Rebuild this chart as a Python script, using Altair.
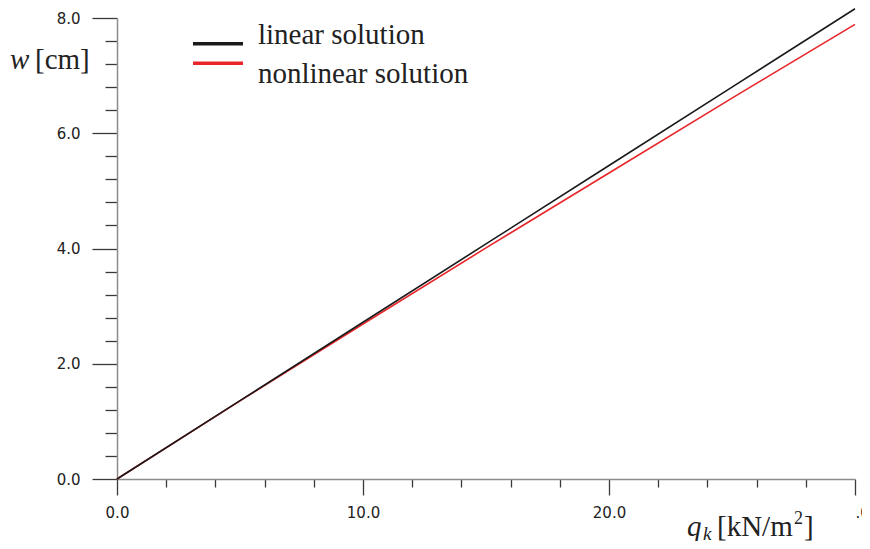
import altair as alt
import pandas as pd

# data
q_vals = [0, 5, 10, 15, 20, 25, 30]
w_linear = [0.0, 1.36, 2.72, 4.08, 5.44, 6.80, 8.16]
w_nonlinear = [0.0, 1.355, 2.69, 4.01, 5.31, 6.61, 7.89]
series_names = ["linear solution", "nonlinear solution"]
series_colors = ["#1a1a1a", "#e8262a"]

y_ticks = [round(0.4 * i, 1) for i in range(21)]
x_ticks = [2 * i for i in range(16)]

rows = []
for q, w in zip(q_vals, w_nonlinear):
    rows.append({"q": q, "w": w, "series": series_names[1], "order": 0})
for q, w in zip(q_vals, w_linear):
    rows.append({"q": q, "w": w, "series": series_names[0], "order": 1})
df = pd.DataFrame(rows)

legend_df = pd.DataFrame({"series": series_names})

label_font = "DejaVu Sans"
serif = "Liberation Serif"

color_scale = alt.Scale(domain=series_names, range=series_colors)

y_axis = alt.Axis(
    values=y_ticks,
    labelExpr="abs(datum.value/2 - round(datum.value/2)) < 0.001 ? format(datum.value, '.1f') : ''",
    tickSize={"condition": {"test": "abs(datum.value/2 - round(datum.value/2)) < 0.001", "value": 25}, "value": 12},
    labelPadding=12,
    labelFont=label_font, labelFontSize=15, labelColor="#222222",
    domainColor="#8c8c8c", domainWidth=1.5,
    tickColor="#3a3a3a", tickWidth=1.3,
    grid=False, title=None,
)
x_axis = alt.Axis(
    values=x_ticks,
    labelExpr="datum.value == 30 ? '.0' : (datum.value % 10 == 0 ? format(datum.value, '.1f') : '')",
    labelAlign={"condition": {"test": "datum.value == 30", "value": "left"}, "value": "center"},
    tickSize={"condition": {"test": "datum.value % 10 == 0", "value": 16}, "value": 8},
    labelPadding=10,
    labelFont=label_font, labelFontSize=15, labelColor="#222222",
    domainColor="#8c8c8c", domainWidth=1.5,
    tickColor="#3a3a3a", tickWidth=1.3,
    grid=False, title=None,
)

lines = alt.Chart(df).mark_line(strokeWidth=1.6).encode(
    x=alt.X("q:Q", scale=alt.Scale(domain=[0, 30], nice=False), axis=x_axis),
    y=alt.Y("w:Q", scale=alt.Scale(domain=[0, 8], nice=False), axis=y_axis),
    color=alt.Color("series:N", scale=color_scale, legend=None),
    detail="series:N",
    order="order:Q",
)

leg_y = alt.Y("series:N", scale=alt.Scale(domain=series_names, range=[16, 55], padding=0), axis=None)
legend_rules = alt.Chart(legend_df).mark_rule(strokeWidth=3.5).encode(
    x=alt.value(76), x2=alt.value(126), y=leg_y,
    color=alt.Color("series:N", scale=color_scale, legend=None),
)
legend_text = alt.Chart(legend_df).mark_text(
    align="left", baseline="middle", font=serif, fontSize=29, color="#222222", dy=1
).encode(x=alt.value(141), y=leg_y, text="series:N")

def txt(s, x, y, size=29, style="normal"):
    return alt.Chart(pd.DataFrame({"t": [s]})).mark_text(
        align="left", baseline="alphabetic", font=serif, fontSize=size,
        fontStyle=style, color="#222222"
    ).encode(x=alt.value(x), y=alt.value(y), text="t:N")

titles = [
    txt("w", -107, 51, style="italic"),
    txt("[cm]", -82, 51),
    txt("q", 570, 518, style="italic"),
    txt("k", 586, 522, size=19, style="italic"),
    txt("[kN/m", 600, 518),
    txt("2", 677, 506, size=18),
    txt("]", 687, 518),
]

chart = alt.layer(lines, legend_rules, legend_text, *titles).resolve_scale(
    y="independent"
).properties(
    width=738, height=461,
    padding={"left": 109, "top": 10, "right": 7, "bottom": 62},
    autosize=alt.AutoSizeParams(type="none"),
    background="white",
).configure_view(stroke=None)

chart.save("out.html", embed_options={"renderer": "svg", "actions": False})
